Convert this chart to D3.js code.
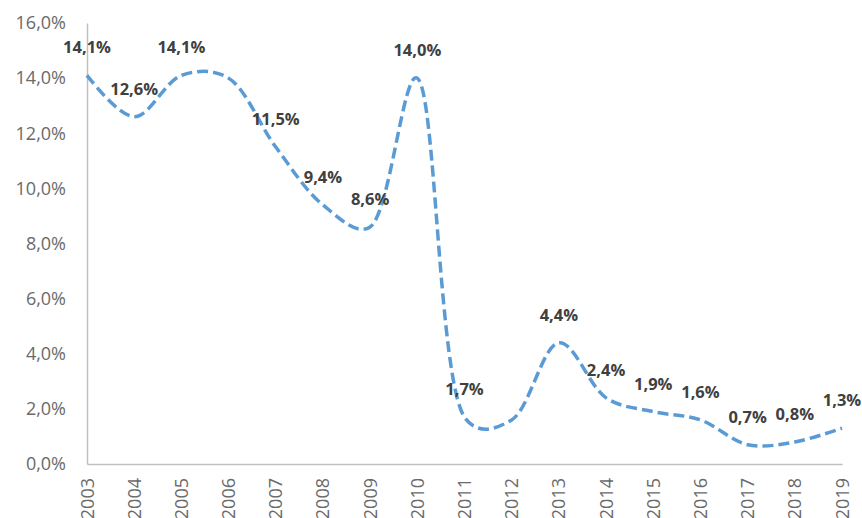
<!DOCTYPE html>
<html>
<head>
<meta charset="utf-8">
<script src="https://cdn.jsdelivr.net/npm/d3@7/dist/d3.min.js"></script>
<style>
  html, body { margin: 0; padding: 0; background: #fff; }
  svg { display: block; }
</style>
</head>
<body>
<svg id="chart" width="862" height="518"></svg>
<script>
// ---- data ----
const years = [2003, 2004, 2005, 2006, 2007, 2008, 2009, 2010, 2011, 2012, 2013, 2014, 2015, 2016, 2017, 2018, 2019];
const rates = [14.1, 12.6, 14.1, 14.0, 11.5, 9.4, 8.6, 14.0, 1.7, 1.6, 4.4, 2.4, 1.9, 1.6, 0.7, 0.8, 1.3];
const hiddenLabelYears = [2006, 2012];
const yTicks = [0, 2, 4, 6, 8, 10, 12, 14, 16];

// ---- layout ----
const svg = d3.select("#chart");
const plot = { left: 87, right: 842, top: 23, bottom: 464 };

const x = d3.scalePoint().domain(years).range([plot.left, plot.right]);
const y = d3.scaleLinear().domain([0, 16]).range([plot.bottom, plot.top]);

const loc = d3.formatLocale({ decimal: ",", thousands: ".", grouping: [3], currency: ["", "€"] });
const fmt1 = loc.format(".1f");
const pct = v => fmt1(v) + "%";

const axisColor = "#c0c0c0";
const tickFont = "'Open Sans', 'DejaVu Sans', sans-serif";
const tickColor = "#6a6a6a";

// y axis
const yAxis = d3.axisLeft(y).tickValues(yTicks).tickSize(0).tickPadding(21).tickFormat(pct);
const gy = svg.append("g").attr("transform", `translate(${plot.left},0)`).call(yAxis);
gy.select(".domain").attr("stroke", axisColor).attr("stroke-width", 1.5);
gy.selectAll("text")
  .attr("font-family", tickFont)
  .attr("font-weight", 400)
  .attr("font-size", 18)
  .attr("fill", tickColor);

// x axis
const xAxis = d3.axisBottom(x).tickSize(0).tickPadding(0).tickFormat(d3.format("d"));
const gx = svg.append("g").attr("transform", `translate(0,${plot.bottom})`).call(xAxis);
gx.select(".domain").attr("stroke", axisColor).attr("stroke-width", 1.5);
gx.selectAll("text")
  .attr("font-family", tickFont)
  .attr("font-weight", 400)
  .attr("font-size", 18)
  .attr("fill", tickColor)
  .attr("text-anchor", "end")
  .attr("dy", null)
  .attr("y", 0)
  .attr("transform", "translate(6,14) rotate(-90)");

// line
const pts = years.map((yr, i) => ({ yr, v: rates[i] }));
const line = d3.line()
  .x(d => x(d.yr))
  .y(d => y(d.v))
  .curve(d3.curveCatmullRom.alpha(0.35));

svg.append("path")
  .datum(pts)
  .attr("d", line)
  .attr("fill", "none")
  .attr("stroke", "#5b9bd5")
  .attr("stroke-width", 3.5)
  .attr("stroke-dasharray", "11,5");

// data labels
svg.append("g")
  .selectAll("text")
  .data(pts.filter(d => !hiddenLabelYears.includes(d.yr)))
  .join("text")
  .attr("x", d => x(d.yr))
  .attr("y", d => y(d.v) - 22)
  .attr("text-anchor", "middle")
  .attr("font-family", "'Open Sans', 'DejaVu Sans', sans-serif")
  .attr("font-weight", 700)
  .attr("font-size", 16.5)
  .attr("fill", "#404040")
  .text(d => pct(d.v));
</script>
</body>
</html>
